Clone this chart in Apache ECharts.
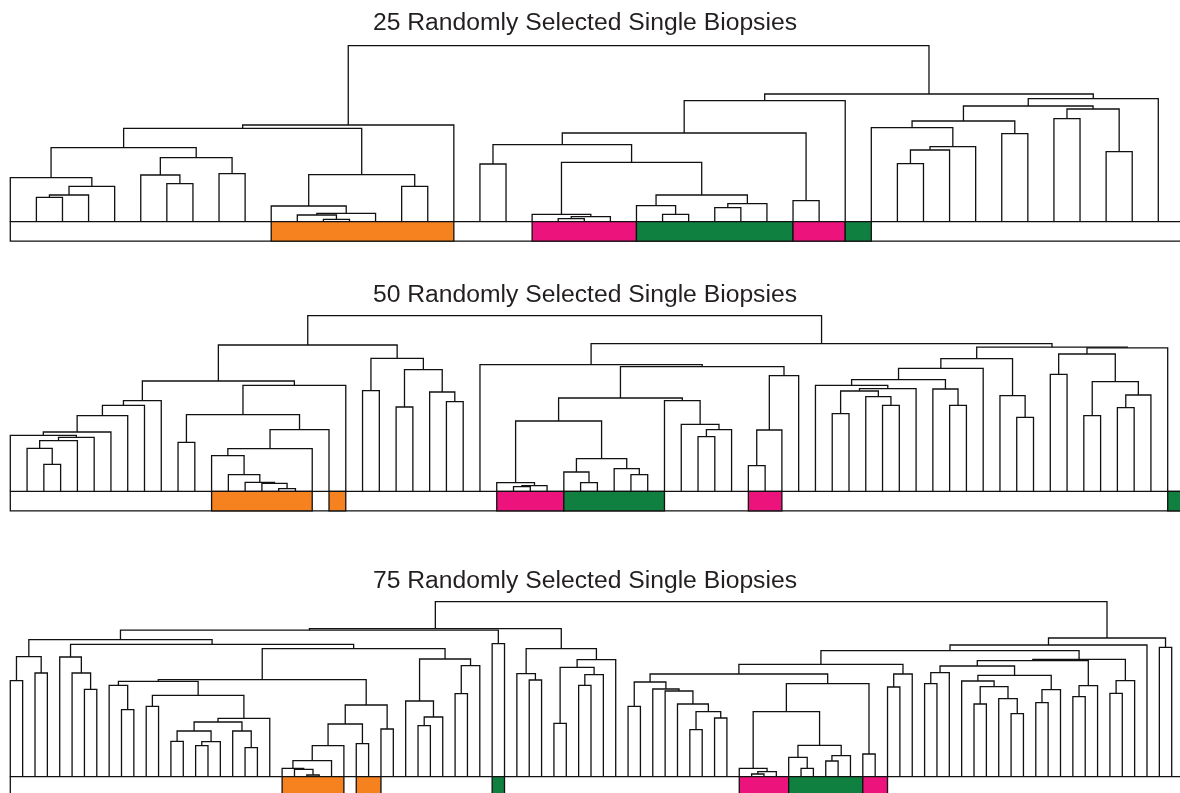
<!DOCTYPE html>
<html>
<head>
<meta charset="utf-8">
<title>Randomly Selected Single Biopsies</title>
<script src="https://cdn.jsdelivr.net/npm/echarts/dist/echarts.min.js"></script>
<style>
  html, body { margin: 0; padding: 0; background: #ffffff; }
  #chart { width: 1180px; height: 793px; }
</style>
</head>
<body>
<div id="chart"></div>
<script>
// Panel titles
const titles = [
  '25 Randomly Selected Single Biopsies',
  '50 Randomly Selected Single Biopsies',
  '75 Randomly Selected Single Biopsies'
];

// Dendrograms: an internal node is [mergeHeight, left, right]; a leaf is 0.
// Leaves are numbered left to right in the order they are met.
const tree25 =
  [176,
    [96.7,
      [93.4,
        [74,
          [44, 0, [35.4, [26.7, [24.4, 0, 0], 0], 0]],
          [64, [46.7, 0, [38, 0, 0]], [48, 0, 0]]],
        [47, [15.7, 0, [8.4, [6.7, 0, [2.4, 0, 0]], 0]], [35.4, 0, 0]]],
      0],
    [127.7,
      [121,
        [88.7,
          [77,
            [57.7, 0, 0],
            [59.4,
              [7.4, 0, [5, [3, 0, 0], 0]],
              [26.7, [16, 0, [7.4, 0, 0]], [18, [14, 0, 0], 0]]]],
          [21, 0, 0]],
        0],
      [123,
        [115.7,
          [100.7, [94, 0, [75, [71.7, [58, 0, 0], 0], 0]], [88, 0, 0]],
          [112.7, [103, 0, 0], [70, 0, 0]]],
        0]]];

const tree50 =
  [175.6,
    [146.3,
      [110.3,
        [90.6, [86, [75.6, [59.3, [56, 0, [54, [50.6, [43, 0, [27, 0, 0]], 0], 0]], 0], 0], 0], 0],
        [106,
          [76.6,
            [49, 0, 0],
            [61.6, [42.6, [35.6, 0, [16.6, 0, [9, 0, [8, 0, [2.6, 0, 0]]]]], 0], 0]],
          0]],
      [133, [100.6, 0, 0], [121.6, [84.3, 0, 0], [99.3, 0, [89.6, 0, 0]]]]],
    [147.6,
      [126.6,
        0,
        [124.6,
          [93.3,
            [70.3,
              [8.6, 0, [5.6, [4.6, 0, 0], 0]],
              [32.6, [19.3, 0, [8.6, 0, 0]], [22.6, 0, [16.6, 0, 0]]]],
            [90.6, 0, [67, 0, [61.6, [54.6, 0, 0], 0]]]],
          [115.6, [61.3, [25.6, 0, 0], 0], 0]]],
      [144.1,
        [132.6,
          [123,
            [111.6,
              [106, 0, [102.6, [100.3, [77.6, 0, 0], [94.6, 0, [86, 0, 0]]], 0]],
              [102.3, 0, [86, 0, 0]]],
            0],
          [95.6, 0, [74, 0, 0]]],
        [143.5,
          [137.3, [117, 0, 0], [109.6, [75.6, 0, 0], [96.3, [83.6, 0, 0], 0]]],
          0]]]];

const tree75 =
  [175,
    [148,
      [146.5,
        [137,
          [120, [96, 0, 0], [103.7, 0, 0]],
          [132.3,
            [119.7, 0, [103.7, 0, [87.4, 0, 0]]],
            [128,
              [97,
                [95.4,
                  [91.4, 0, [67, 0, 0]],
                  [81.4,
                    [70.4, 0, 0],
                    [58.4,
                      [54.7,
                        [45.7, [35.4, 0, 0], [35, [31, 0, 0], 0]],
                        [45.7, 0, [29, 0, 0]]],
                      0]]],
                [71.7,
                  [52.7,
                    [31, [16, [8.4, 0, [7.4, 0, [1.7, 0, 0]]], 0], 0],
                    [33, 0, 0]],
                  [47.7, 0, 0]]],
              [117.7,
                [75.7, 0, [59.7, [51, 0, 0], 0]],
                [111, [83, 0, 0], 0]]]]],
        [133, 0, 0]],
      [128,
        [103, 0, [96.7, 0, 0]],
        [117, [109.4, [53.4, 0, 0], [102, [91.4, 0, 0], 0]], 0]]],
    [138.7,
      [131.7,
        [126,
          [112.4,
            [102.7,
              [94.7, [70.4, 0, 0], [87.7, 0, [85.7, 0, [72.7, 0, [65, [47, 0, 0], [58.7, 0, 0]]]]]],
              [93,
                [65,
                  [8.4, 0, [5, [2.7, 0, 0], 0]],
                  [31.4, [19.4, 0, [8.4, 0, 0]], [21, [15.7, 0, 0], 0]]],
                [22.7, 0, 0]]],
            [102.7, [89.7, 0, 0], 0]],
          [117.4,
            [116,
              [110.7,
                [104, [93, 0, 0], 0],
                [101.4,
                  [95.7, 0, [90, [72.7, 0, 0], [78, 0, [63, 0, 0]]]],
                  [87, [74, 0, 0], 0]]],
              [91, [80, 0, 0], 0]],
            [96, [83.4, 0, 0], 0]]],
        0],
      [129.4, 0, 0]]];

// Coloured cells in the strip under the leaves: [firstLeaf, endLeaf (exclusive), group]
const bands25 = [[10, 17, 'orange'], [20, 24, 'pink'], [24, 30, 'green'], [30, 32, 'pink'], [32, 33, 'green']];
const bands50 = [[12, 18, 'orange'], [19, 20, 'orange'], [29, 33, 'pink'], [33, 39, 'green'], [44, 46, 'pink'], [69, 70, 'green']];
const bands75 = [[22, 27, 'orange'], [28, 30, 'orange'], [39, 40, 'green'], [59, 63, 'pink'], [63, 69, 'green'], [69, 71, 'pink']];

// ---- styling and layout ----
const GROUP_COLORS = { orange: '#F5821F', pink: '#EC137C', green: '#108040' };
const LINE_COLOR = '#111111';
const LINE_WIDTH = 1.3;
const STRIP_DEPTH = 19.5;   // pixel depth of the strip below the baseline
const TREE_SPAN = 180;      // height units shown above the baseline

const panels = [
  { title: titles[0], tree: tree25, bands: bands25, baseline: 221.7, width: 1148.0, titleTop: 11 },
  { title: titles[1], tree: tree50, bands: bands50, baseline: 491.3, width: 1157.4, titleTop: 283 },
  { title: titles[2], tree: tree75, bands: bands75, baseline: 776.7, width: 1161.4, titleTop: 569 }
];

// Walk a tree, give leaves consecutive positions, and collect one
// U-shaped link per internal node: [xLeft, hLeft, xRight, hRight, h]
function layoutTree(tree) {
  const links = [];
  let next = 0;
  function walk(node) {
    if (!Array.isArray(node)) {
      return { x: next++, h: 0 };
    }
    const a = walk(node[1]);
    const b = walk(node[2]);
    links.push([a.x, a.h, b.x, b.h, node[0]]);
    return { x: (a.x + b.x) / 2, h: node[0] };
  }
  walk(tree);
  return { links, leafCount: next };
}

function renderLink(params, api) {
  const x1 = api.value(0), h1 = api.value(1), x2 = api.value(2), h2 = api.value(3), h = api.value(4);
  const points = [[x1, h1], [x1, h], [x2, h], [x2, h2]].map(p => api.coord(p));
  return {
    type: 'polyline',
    shape: { points },
    style: { stroke: LINE_COLOR, lineWidth: LINE_WIDTH, fill: 'none' }
  };
}

function renderCell(params, api) {
  const a = api.coord([api.value(0), 0]);
  const b = api.coord([api.value(1), 0]);
  return {
    type: 'rect',
    shape: { x: a[0], y: a[1], width: b[0] - a[0], height: STRIP_DEPTH },
    style: { fill: api.visual('color'), stroke: LINE_COLOR, lineWidth: LINE_WIDTH }
  };
}

const grid = [], xAxis = [], yAxis = [], series = [], title = [];

panels.forEach((p, i) => {
  const { links, leafCount } = layoutTree(p.tree);

  title.push({
    text: p.title,
    left: 585,
    top: p.titleTop,
    textAlign: 'center',
    padding: 0,
    textStyle: {
      fontFamily: '"Liberation Sans", Arial, Helvetica, sans-serif',
      fontSize: 24.7,
      fontWeight: 'normal',
      color: '#231f20'
    }
  });

  grid.push({ left: 10.3, top: p.baseline - TREE_SPAN, width: p.width, height: TREE_SPAN, containLabel: false });
  xAxis.push({ type: 'value', gridIndex: i, min: 0, max: leafCount - 1, show: false });
  yAxis.push({ type: 'value', gridIndex: i, min: 0, max: TREE_SPAN, show: false });

  // white strip spanning every leaf cell
  series.push({
    type: 'custom', xAxisIndex: i, yAxisIndex: i, clip: false, silent: true,
    renderItem: renderCell,
    encode: { x: [0, 1], y: [] },
    data: [{ value: [0, leafCount], itemStyle: { color: '#ffffff' } }]
  });

  // coloured group cells
  series.push({
    type: 'custom', xAxisIndex: i, yAxisIndex: i, clip: false, silent: true,
    renderItem: renderCell,
    encode: { x: [0, 1], y: [] },
    data: p.bands.map(b => ({ value: [b[0], b[1]], itemStyle: { color: GROUP_COLORS[b[2]] } }))
  });

  // dendrogram links
  series.push({
    type: 'custom', xAxisIndex: i, yAxisIndex: i, clip: false, silent: true,
    renderItem: renderLink,
    encode: { x: [0, 2], y: [1, 3, 4] },
    data: links
  });
});

const chart = echarts.init(document.getElementById('chart'), null, { renderer: 'canvas' });
chart.setOption({
  backgroundColor: '#ffffff',
  animation: false,
  title,
  grid,
  xAxis,
  yAxis,
  tooltip: { show: false },
  series
});
</script>
</body>
</html>
